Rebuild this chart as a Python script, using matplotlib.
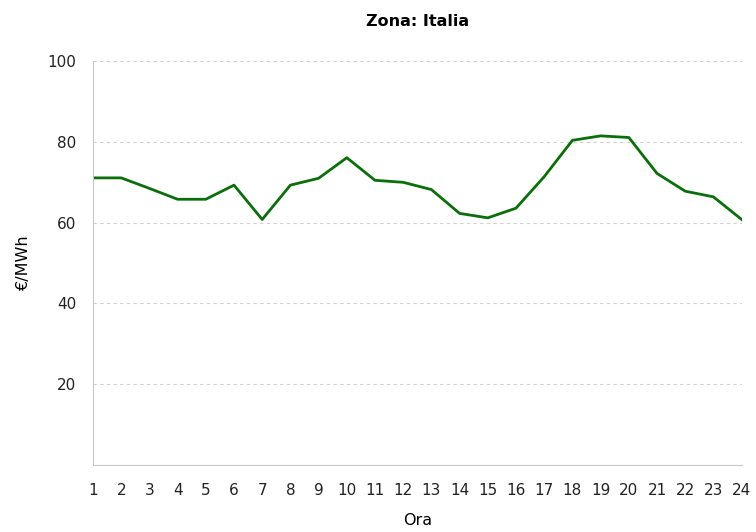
import matplotlib
matplotlib.use('Agg')
import matplotlib.pyplot as plt

# prezzi orari zona Italia
ore = list(range(1, 25))
prezzi = [71.1, 71.1, 68.5, 65.8, 65.8, 69.3, 60.8, 69.3, 71.0, 76.1, 70.5, 70.0,
          68.2, 62.3, 61.2, 63.6, 71.4, 80.4, 81.5, 81.1, 72.2, 67.8, 66.4, 60.8]
y_ticks = [20, 40, 60, 80, 100]

fig = plt.figure(figsize=(7.56, 5.32), dpi=100)
ax = fig.add_axes([0.123, 0.126, 0.858, 0.759])

ax.plot(ore, prezzi, color='#0b6e0b', linewidth=2.0)

ax.set_xlim(1, 24)
ax.set_ylim(0, 100)
ax.set_xticks(ore)
ax.set_yticks(y_ticks)
ax.yaxis.grid(True, linestyle=(0, (3, 3)), color='#d0d0d0', linewidth=0.8)
ax.set_axisbelow(True)

for s in ['top', 'right']:
    ax.spines[s].set_visible(False)
for s in ['left', 'bottom']:
    ax.spines[s].set_color('#c8c8c8')

ax.tick_params(axis='both', length=0, labelsize=11, colors='#222222')
ax.tick_params(axis='x', pad=13)
ax.tick_params(axis='y', pad=12)

ax.set_title('Zona: Italia', fontsize=11.5, fontweight='bold', pad=25)
ax.set_xlabel('Ora', fontsize=11.5, labelpad=11)
ax.set_ylabel('€/MWh', fontsize=11.5, labelpad=12)

fig.savefig('out.png', dpi=100)
